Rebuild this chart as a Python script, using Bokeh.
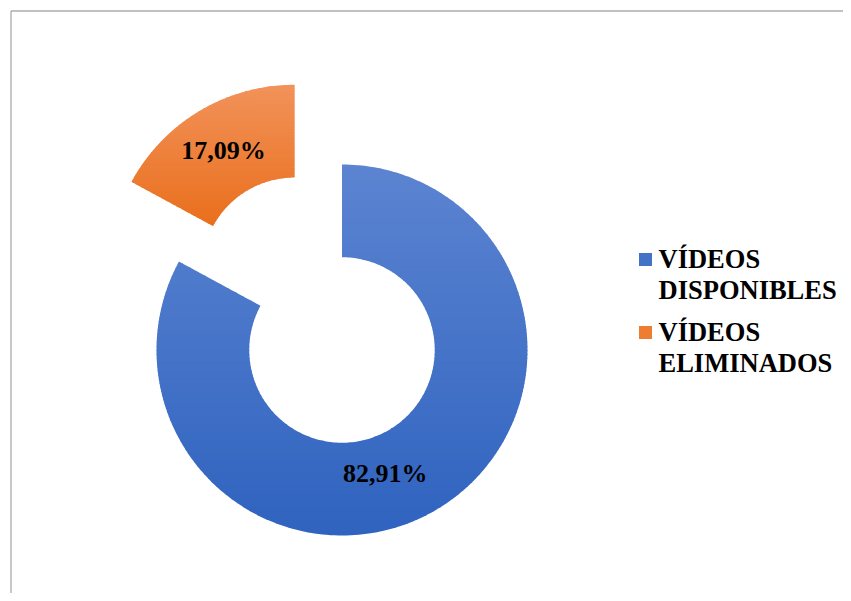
import numpy as np
from bokeh.plotting import figure
from bokeh.models import Range1d
from bokeh.embed import file_html
from bokeh.resources import INLINE
from bokeh.core.properties import value

# ---------------- data ----------------
categories = ["VÍDEOS DISPONIBLES", "VÍDEOS ELIMINADOS"]
percentages = [82.91, 17.09]
label_texts = ["82,91%", "17,09%"]
explode = [0.0, 0.5]

# ---------------- styling / layout ----------------
grad_top = [(92, 132, 209), (242, 146, 90)]
grad_bottom = [(47, 99, 191), (233, 111, 28)]
legend_colors = ["#4472C4", "#ED7D31"]
FONT = "Liberation Serif"

W, H = 843, 593
p = figure(width=W, height=H, x_range=Range1d(0, W), y_range=Range1d(0, H),
           output_backend="svg", toolbar_location=None, min_border=0)
p.axis.visible = False
p.grid.visible = False
p.outline_line_color = None
p.background_fill_color = "white"
p.border_fill_color = "white"


def px(page_x):
    return page_x


def py(page_y):
    return H - page_y


cx, cy = px(341.5), py(349.5)
r_out = 185.5
r_in = r_out * 0.5

# chart border (left/top visible)
p.segment(x0=[px(10.5), px(10.5)], y0=[py(10.5), py(10.5)],
          x1=[px(10.5), W + 20], y1=[-20, py(10.5)],
          line_color="#ababab", line_width=1.3)


def sector_poly(x0, y0, a0, a1, n=240):
    t = np.linspace(a0, a1, n)
    xo = x0 + r_out * np.cos(t)
    yo = y0 + r_out * np.sin(t)
    xi = x0 + r_in * np.cos(t[::-1])
    yi = y0 + r_in * np.sin(t[::-1])
    return list(zip(np.concatenate([xo, xi]), np.concatenate([yo, yi])))


def clip_half(pts, keep, c):
    out = []
    n = len(pts)
    for i in range(n):
        cur = pts[i]
        prev = pts[i - 1]
        cin, pin = keep(cur), keep(prev)
        if cin != pin:
            t = (c - prev[1]) / (cur[1] - prev[1])
            out.append((prev[0] + t * (cur[0] - prev[0]), c))
        if cin:
            out.append(cur)
    return out


def clip_band(pts, ylo, yhi):
    a = clip_half(pts, lambda q: q[1] <= yhi, yhi)
    if not a:
        return a
    return clip_half(a, lambda q: q[1] >= ylo, ylo)


total = sum(percentages)
start = np.pi / 2  # 12 o'clock, clockwise
label_pos = []
xs_all, ys_all, cols_all = [], [], []
for i, v in enumerate(percentages):
    sweep = 2 * np.pi * v / total
    a0, a1 = start, start - sweep
    mid = (a0 + a1) / 2
    ox = cx + explode[i] * r_out * np.cos(mid)
    oy = cy + explode[i] * r_out * np.sin(mid)
    poly = sector_poly(ox, oy, a0, a1)
    ys_ = [q[1] for q in poly]
    ymax, ymin = max(ys_), min(ys_)
    N = 90
    h = (ymax - ymin) / N
    for k in range(N):
        yhi = ymax - k * h + (0.01 if k == 0 else 0)
        ylo = ymax - (k + 1) * h - 0.8
        piece = clip_band(poly, ylo, yhi)
        if len(piece) < 3:
            continue
        f = (k + 0.5) / N
        c = tuple(int(round(grad_top[i][j] + f * (grad_bottom[i][j] - grad_top[i][j]))) for j in range(3))
        xs_all.append([q[0] for q in piece])
        ys_all.append([q[1] for q in piece])
        cols_all.append("#%02x%02x%02x" % c)
    rm = (r_in + r_out) / 2
    label_pos.append((ox + rm * np.cos(mid), oy + rm * np.sin(mid)))
    start = a1

p.patches(xs_all, ys_all, fill_color=cols_all, line_color=None)

# data labels
label_shift = [(-28, -4), (0, 0)]
lx = [label_pos[i][0] + label_shift[i][0] for i in range(2)]
ly = [label_pos[i][1] + label_shift[i][1] for i in range(2)]
p.text(x=lx, y=ly, text=label_texts, text_font=value(FONT), text_font_style="bold",
       text_font_size="26px", text_color="black", text_align="center", text_baseline="middle")

# legend
leg_sq_x = px(645)
leg_first_base = [258, 331]
line_step = 31.5
p.scatter(x=[leg_sq_x] * 2, y=[py(b + 1) for b in leg_first_base], marker="square", size=13,
          fill_color=legend_colors, line_color=None)
tx, ty, tt = [], [], []
for i, cat in enumerate(categories):
    for j, line in enumerate(cat.split(" ")):
        tx.append(px(658))
        ty.append(py(leg_first_base[i] + j * line_step))
        tt.append(line)
p.text(x=tx, y=ty, text=tt, text_font=value(FONT), text_font_style="bold",
       text_font_size="26.5px", text_color="black", text_align="left", text_baseline="alphabetic")

open("out.html", "w").write(file_html(p, INLINE))
